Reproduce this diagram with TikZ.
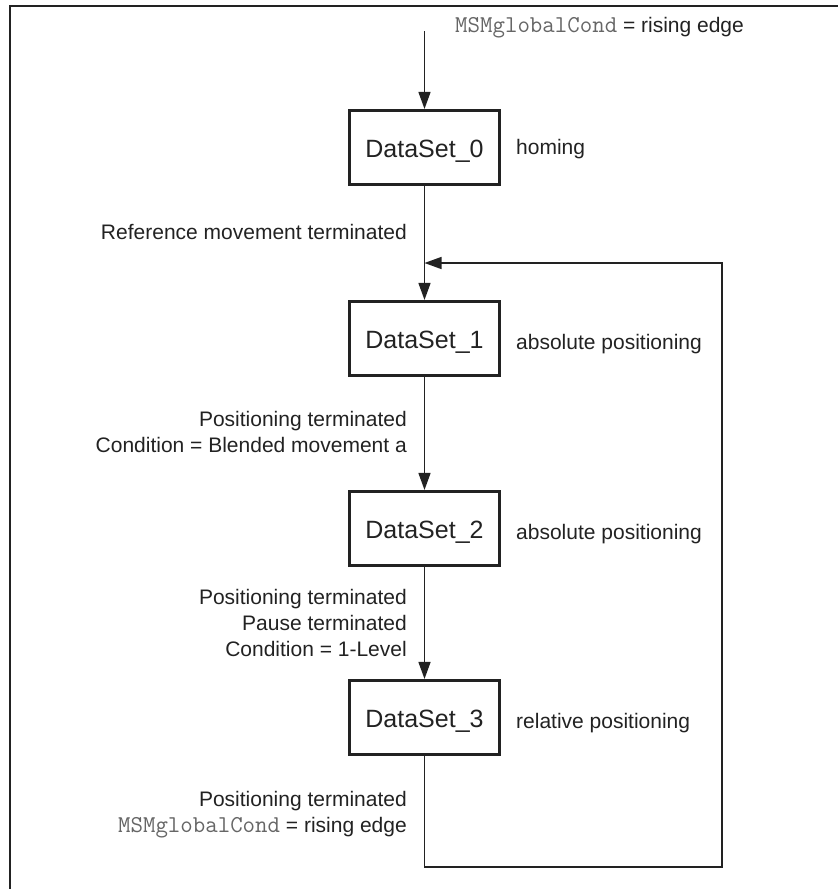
\documentclass[tikz,border=0pt]{standalone}
\usepackage{fontspec}
\setmainfont{Liberation Sans}
\usetikzlibrary{arrows.meta}
\definecolor{ink}{HTML}{222222}
\definecolor{monogray}{HTML}{666666}
\newcommand{\msmcond}{{\fontsize{24.2}{26}\ttfamily\color{monogray}MSMglobalCond}}
\begin{document}
\begin{tikzpicture}[x=1pt,y=-1pt,
  stepbox/.style={draw=ink, line width=2.6pt, minimum width=150pt, minimum height=74.5pt,
    inner sep=0pt, text=ink, font=\fontsize{25}{30}\selectfont, text height=20pt, text depth=0pt},
  lbl/.style={inner sep=0pt, text=ink, font=\fontsize{21}{26}\selectfont},
  conn/.style={draw=ink, line width=1.4pt},
  arr/.style={conn, -{Triangle[length=17pt,width=12pt]}},
]
\useasboundingbox (0,0) rectangle (838,889);
\draw[ink, line width=1.5pt] (10,889) -- (10,6) -- (838,6);

\node[stepbox] (d0) at (424.5,147.5) {DataSet\_0};
\node[stepbox] (d1) at (424.5,338.5) {DataSet\_1};
\node[stepbox] (d2) at (424.5,528.5) {DataSet\_2};
\node[stepbox] (d3) at (424.5,717.5) {DataSet\_3};

\node[lbl, anchor=base west] (s0) at (516,154) {homing};
\node[lbl, anchor=base west] (s1) at (516,349) {absolute positioning};
\node[lbl, anchor=base west] (s2) at (516,539) {absolute positioning};
\node[lbl, anchor=base west] (s3) at (516,728) {relative positioning};

\node[lbl, anchor=base west] (t0) at (455,32) {\msmcond\ = rising edge};

\node[lbl, anchor=base east] (c0) at (407,239) {Reference movement terminated};
\node[lbl, anchor=north east, align=right] (c1) at (407,410.7)
  {Positioning terminated\\Condition = Blended movement a};
\node[lbl, anchor=north east, align=right] (c2) at (407,588.7)
  {Positioning terminated\\Pause terminated\\Condition = 1-Level};
\node[lbl, anchor=north east, align=right] (c3) at (407,790.7)
  {Positioning terminated\\\msmcond\ = rising edge};

\coordinate (start) at (424.5,31);
\coordinate (fbBL) at (424.5,867);
\coordinate (fbBR) at (722,867);
\coordinate (fbTR) at (722,263);
\coordinate (fbJoin) at (424.5,263);

\draw[arr] (start) -- (d0);
\draw[arr] (d0) -- (d1);
\draw[arr] (d1) -- (d2);
\draw[arr] (d2) -- (d3);
\draw[arr, line join=miter] (d3.south) -- (fbBL) -- (fbBR) -- (fbTR) -- (fbJoin);
\end{tikzpicture}
\end{document}
